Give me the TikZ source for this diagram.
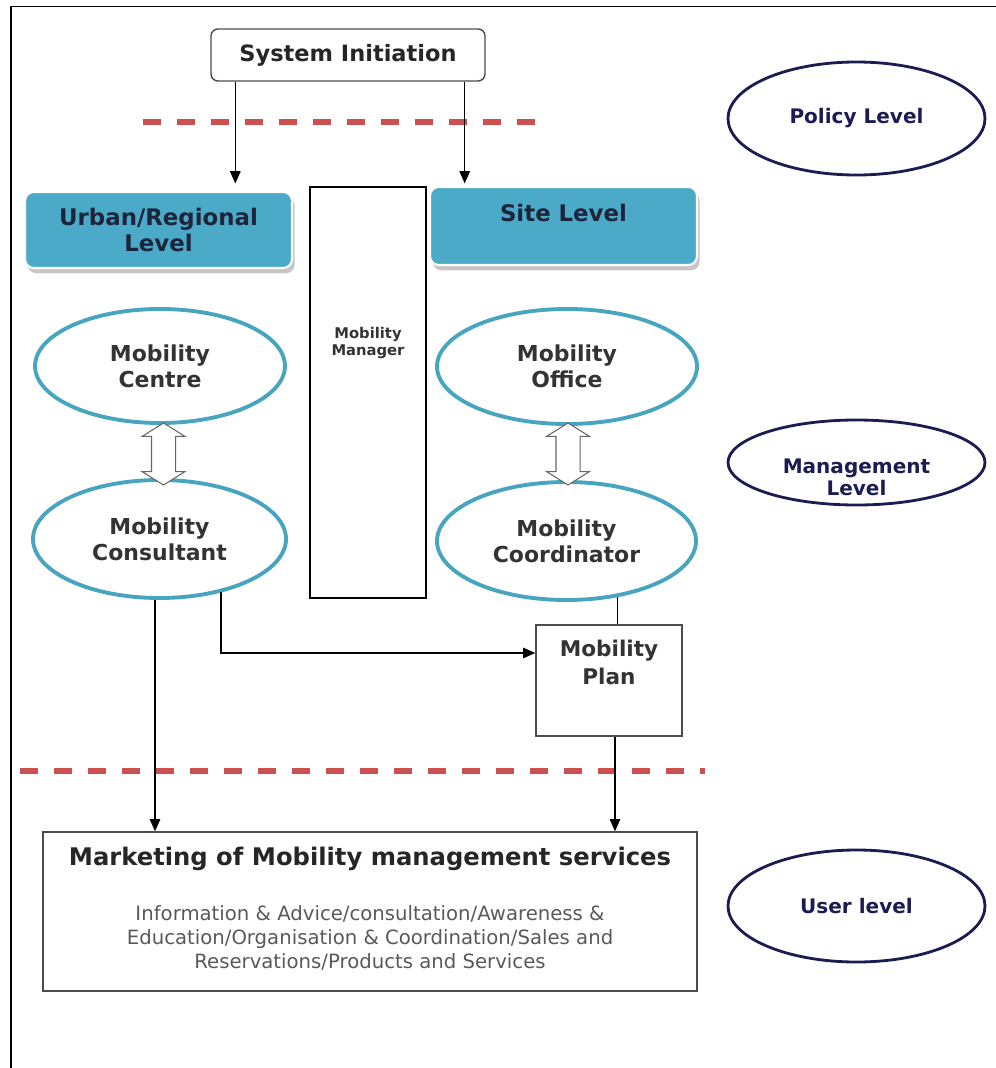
\documentclass[tikz,border=0pt]{standalone}
\usepackage{fontspec}
\setmainfont{DejaVu Sans}
\usetikzlibrary{shapes.geometric, shapes.arrows, arrows.meta, shadows}

\definecolor{tealfill}{RGB}{74,170,200}
\definecolor{tealline}{RGB}{72,165,192}
\definecolor{navy}{RGB}{28,28,82}
\definecolor{darktext}{RGB}{30,36,58}
\definecolor{dashred}{RGB}{205,80,80}

\begin{document}
\begin{tikzpicture}[
    arr/.style={-{Triangle[length=7pt,width=6pt]}, line width=0.7pt},
    levelbox/.style={draw=white, line width=1.2pt, fill=tealfill, rounded corners=5pt, text=darktext,
        font=\fontsize{13}{15}\selectfont\bfseries, align=center, minimum width=5.34cm,
        drop shadow={shadow xshift=1.5pt, shadow yshift=-3pt, fill=gray!45, opacity=1}},
    role/.style={draw=tealline, line width=2.2pt, ellipse, text=black!80,
        font=\fontsize{12.5}{15}\selectfont\bfseries, align=center, inner sep=0pt},
    tier/.style={draw=navy, line width=1.6pt, ellipse, text=navy,
        font=\fontsize{11.4}{13.6}\selectfont\bfseries, align=center, minimum width=5.14cm, inner sep=0pt},
    plainbox/.style={draw=black!70, line width=0.8pt},
    swap/.style={double arrow, shape border rotate=90, draw=black!60, fill=white, line width=0.6pt,
        minimum height=1.24cm, inner sep=0.23cm, double arrow head extend=0.19cm,
        double arrow tip angle=116},
    divider/.style={draw=dashred, line width=3.2pt, dash pattern=on 0.36cm off 0.32cm}
]
    \useasboundingbox (0,0) rectangle (19.92,-21.36);
    % Frame
    \draw[line width=1pt] (0.22,-21.36) -- (0.22,-0.13) -- (19.92,-0.13);

    % Dividers
    \draw[divider] (2.86,-2.44) -- (10.86,-2.44);
    \draw[divider] (0.40,-15.42) -- (14.10,-15.42);

    % Nodes
    \node[plainbox, rounded corners=4pt, minimum width=5.48cm, minimum height=1.04cm,
        font=\fontsize{12.8}{15}\selectfont\bfseries, text=black!85] (sysinit) at (6.96,-1.10) {System Initiation};
    \node[levelbox, minimum height=1.52cm] (urban) at (3.17,-4.60) {Urban/Regional\\Level};
    \node[levelbox, minimum height=1.56cm] (site) at (11.27,-4.52) {};
    \node[font=\fontsize{13}{15}\selectfont\bfseries, text=darktext] (sitelbl) at (11.27,-4.26) {Site Level};

    \node[draw, line width=0.8pt, minimum width=2.32cm, minimum height=8.22cm] (manager) at (7.36,-7.85) {};
    \node[font=\fontsize{8.4}{9.6}\selectfont\bfseries, text=black!80, align=center] (mgrlbl) at (7.36,-6.86) {Mobility\\Manager};

    \node[role, minimum width=5.0cm, minimum height=2.28cm] (centre) at (3.20,-7.32) {Mobility\\Centre};
    \node[role, minimum width=5.2cm, minimum height=2.30cm] (office) at (11.34,-7.33) {Mobility\\Office};
    \node[role, minimum width=5.06cm, minimum height=2.36cm] (consultant) at (3.19,-10.78) {Mobility\\Consultant};
    \node[role, minimum width=5.18cm, minimum height=2.36cm] (coordinator) at (11.33,-10.82) {Mobility\\Coordinator};

    \node[swap] (swapL) at (3.27,-9.08) {};
    \node[swap] (swapR) at (11.36,-9.08) {};

    \node[plainbox, minimum width=2.92cm, minimum height=2.22cm] (plan) at (12.18,-13.61) {};
    \node[font=\fontsize{12.3}{15.9}\selectfont\bfseries, text=black!80, align=center] (planlbl) at (12.18,-13.24) {Mobility\\Plan};

    \node[plainbox, minimum width=13.08cm, minimum height=3.18cm] (marketing) at (7.40,-18.23) {};
    \node[font=\fontsize{13.8}{16}\selectfont\bfseries, text=black!85] (mkttitle) at (7.40,-17.18) {Marketing of Mobility management services};
    \node[font=\fontsize{11.2}{13.6}\selectfont, text=black!65, align=center] (mktbody) at (7.40,-18.76)
        {Information \& Advice/consultation/Awareness \&\\Education/Organisation \& Coordination/Sales and\\Reservations/Products and Services};

    \node[tier, minimum height=2.26cm] (policy) at (17.13,-2.37) {Policy Level};
    \node[tier, minimum height=1.70cm] (mgmt) at (17.13,-9.25) {};
    \node[font=\fontsize{11.4}{12.6}\selectfont\bfseries, text=navy, align=center] (mgmtlbl) at (17.13,-9.55) {Management\\Level};
    \node[tier, minimum height=2.24cm] (user) at (17.13,-18.12) {User level};

    % Arrows
    \coordinate (initL) at ([xshift=0.5cm]sysinit.south west);
    \coordinate (initR) at ([xshift=-0.42cm]sysinit.south east);
    \draw[arr, shorten >=0.15cm] (initL) -- (initL |- urban.north);
    \draw[arr, shorten >=0.05cm] (initR) -- (initR |- site.north);

    \coordinate (consL) at ([xshift=-0.09cm]consultant.south);
    \draw[arr] (consL) -- (consL |- marketing.north);
    \draw[arr] (consultant.-41) |- ([yshift=0.55cm]plan.west);
    \draw[line width=0.7pt] (coordinator.-48) -- (coordinator.-48 |- plan.north);
    \coordinate (planS) at ([xshift=0.12cm]plan.south);
    \draw[arr] (planS) -- (planS |- marketing.north);
\end{tikzpicture}
\end{document}
